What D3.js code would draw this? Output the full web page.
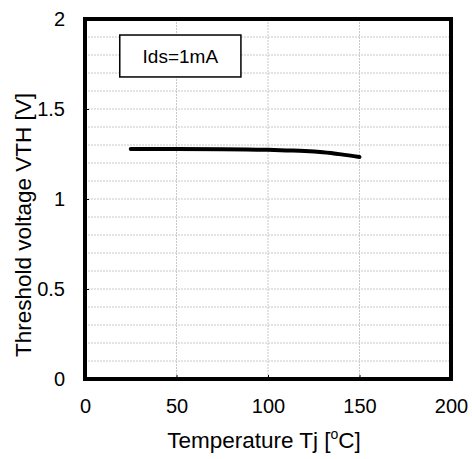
<!DOCTYPE html>
<html>
<head>
<meta charset="utf-8">
<script src="https://cdn.jsdelivr.net/npm/d3@7"></script>
<style>
  body { margin: 0; background: #fff; }
  text { font-family: "Liberation Sans", Arial, sans-serif; fill: #000; }
</style>
</head>
<body>
<script>
// data
var tempC = [25, 50, 75, 100, 110, 120, 130, 140, 150];
var vth = [1.278, 1.278, 1.277, 1.273, 1.270, 1.267, 1.260, 1.248, 1.233];
var xTicks = [0, 50, 100, 150, 200];
var yTicks = [0, 0.5, 1, 1.5, 2];
var noteText = 'Ids=1mA';

var width = 472,
    height = 459,
    margin = { top: 19, right: 21, bottom: 80, left: 85 };

var svg = d3.select('body').append('svg')
    .attr('width', width)
    .attr('height', height);

var w = width - margin.left - margin.right,
    h = height - margin.top - margin.bottom;

var x = d3.scaleLinear().domain([0, 200]).range([0, w]),
    y = d3.scaleLinear().domain([0, 2]).range([h, 0]);

var g = svg.append('g')
    .attr('transform', 'translate(' + margin.left + ',' + margin.top + ')');

// dashed grid
g.append('g').selectAll('line')
  .data(d3.range(1, 20).map(function(i) { return i / 10; }))
  .enter().append('line')
    .attr('x1', 0).attr('x2', w)
    .attr('y1', function(d) { return y(d); })
    .attr('y2', function(d) { return y(d); })
    .attr('stroke', '#c8c8c8')
    .attr('stroke-dasharray', '2,1');

g.append('g').selectAll('line')
  .data([50, 100, 150])
  .enter().append('line')
    .attr('y1', 0).attr('y2', h)
    .attr('x1', function(d) { return x(d); })
    .attr('x2', function(d) { return x(d); })
    .attr('stroke', '#c8c8c8')
    .attr('stroke-dasharray', '2,1');

// axes, ticks point inward
var xAxis = g.append('g')
    .attr('transform', 'translate(0,' + h + ')')
    .call(d3.axisBottom(x).tickValues(xTicks).tickSizeInner(-4).tickSizeOuter(0).tickPadding(20));
var yAxis = g.append('g')
    .call(d3.axisLeft(y).tickValues(yTicks).tickFormat(d3.format('')).tickSizeInner(-4).tickSizeOuter(0).tickPadding(20));

[xAxis, yAxis].forEach(function(a) {
  a.select('.domain').remove();
  a.selectAll('line').attr('stroke', '#000').attr('stroke-width', 1);
  a.selectAll('text').attr('font-size', 20).attr('font-family', '"Liberation Sans", Arial, sans-serif');
});

// curve
var line = d3.line()
    .x(function(d, i) { return x(tempC[i]); })
    .y(function(d) { return y(d); })
    .curve(d3.curveMonotoneX);

g.append('path')
    .datum(vth)
    .attr('d', line)
    .attr('fill', 'none')
    .attr('stroke', '#000')
    .attr('stroke-width', 4)
    .attr('stroke-linecap', 'round');

// frame
g.append('rect')
    .attr('width', w).attr('height', h)
    .attr('fill', 'none')
    .attr('stroke', '#000')
    .attr('stroke-width', 4);

// note box
var bx0 = x(19), bx1 = x(85.2), by0 = y(1.911), by1 = y(1.678);
g.append('rect')
    .attr('x', bx0).attr('y', by0)
    .attr('width', bx1 - bx0).attr('height', by1 - by0)
    .attr('fill', '#fff')
    .attr('stroke', '#000')
    .attr('stroke-width', 1.5);
g.append('text')
    .attr('x', (bx0 + bx1) / 2)
    .attr('y', (by0 + by1) / 2)
    .attr('dy', '0.35em')
    .attr('text-anchor', 'middle')
    .attr('font-size', 19)
    .text(noteText);

// axis titles
var xt = svg.append('text')
    .attr('x', margin.left + w / 2 - 4)
    .attr('y', 448)
    .attr('text-anchor', 'middle')
    .attr('font-size', 22.5);
xt.append('tspan').text('Temperature Tj [');
xt.append('tspan').attr('font-size', 14).attr('dy', -9).text('o');
xt.append('tspan').attr('dy', 9).text('C]');

svg.append('text')
    .attr('transform', 'translate(31,' + 225 + ') rotate(-90)')
    .attr('text-anchor', 'middle')
    .attr('font-size', 22.5)
    .text('Threshold voltage VTH [V]');
</script>
</body>
</html>
